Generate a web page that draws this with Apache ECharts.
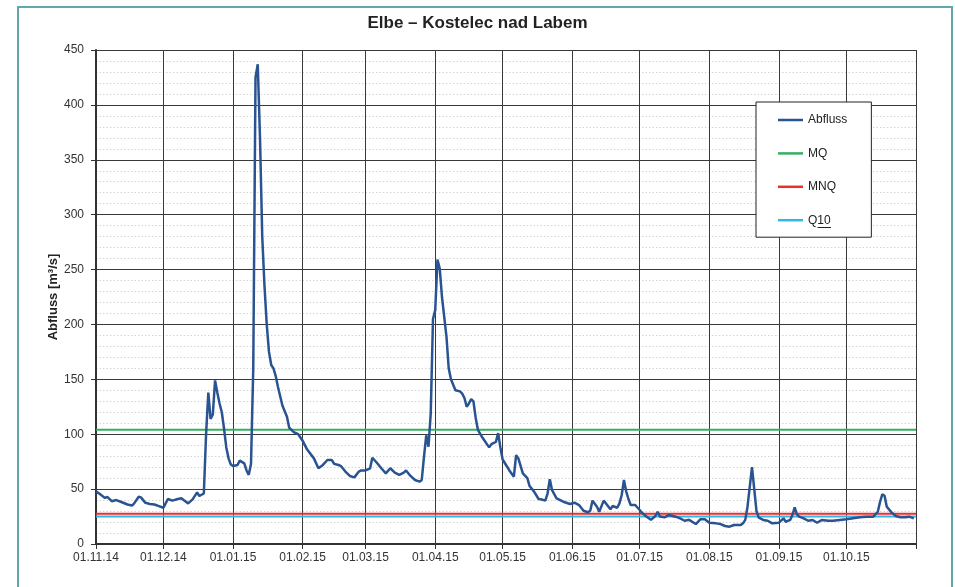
<!DOCTYPE html>
<html>
<head>
<meta charset="utf-8">
<script src="https://cdn.jsdelivr.net/npm/echarts@6/dist/echarts.min.js"></script>
<style>
html,body{margin:0;padding:0;background:#fff;}
#chart{width:955px;height:587px;}
</style>
</head>
<body>
<div id="chart"></div>
<script>
// ---- data ----
const chartTitle = 'Elbe – Kostelec nad Labem';
const yAxisName = 'Abfluss [m³/s]';
const seriesNames = ['Abfluss', 'MQ', 'MNQ', 'Q10'];
const yTicks = [0, 50, 100, 150, 200, 250, 300, 350, 400, 450];

const flowDates = [
  '01.11.14','03.11.14','05.11.14','06.11.14','08.11.14','10.11.14','12.11.14','15.11.14','17.11.14','18.11.14',
  '20.11.14','21.11.14','23.11.14','25.11.14','27.11.14','29.11.14',
  '01.12.14','02.12.14','03.12.14','05.12.14','07.12.14','09.12.14','10.12.14','12.12.14','14.12.14','16.12.14',
  '17.12.14','19.12.14','20.12.14','21.12.14','22.12.14','23.12.14','24.12.14','25.12.14','26.12.14','27.12.14',
  '28.12.14','29.12.14','30.12.14','31.12.14',
  '01.01.15','03.01.15','04.01.15','06.01.15','07.01.15','08.01.15','09.01.15','10.01.15','11.01.15','12.01.15',
  '13.01.15','14.01.15','15.01.15','16.01.15','17.01.15','18.01.15','19.01.15','20.01.15','21.01.15','23.01.15',
  '25.01.15','26.01.15','28.01.15','30.01.15',
  '01.02.15','03.02.15','06.02.15','08.02.15','10.02.15','12.02.15','14.02.15','15.02.15','17.02.15','18.02.15',
  '20.02.15','22.02.15','24.02.15','26.02.15','27.02.15',
  '01.03.15','03.03.15','04.03.15','06.03.15','08.03.15','10.03.15','12.03.15','14.03.15','16.03.15','18.03.15',
  '19.03.15','21.03.15','23.03.15','25.03.15','26.03.15','27.03.15','28.03.15','29.03.15','30.03.15','31.03.15',
  '01.04.15','02.04.15','03.04.15','04.04.15','06.04.15','07.04.15','08.04.15','09.04.15','10.04.15','12.04.15',
  '13.04.15','14.04.15','15.04.15','16.04.15','17.04.15','18.04.15','19.04.15','20.04.15','22.04.15','24.04.15',
  '25.04.15','26.04.15','28.04.15','29.04.15','30.04.15',
  '01.05.15','03.05.15','04.05.15','06.05.15','07.05.15','08.05.15','10.05.15','12.05.15','13.05.15','15.05.15',
  '17.05.15','18.05.15','20.05.15','21.05.15','22.05.15','23.05.15','25.05.15','28.05.15','31.05.15',
  '02.06.15','04.06.15','06.06.15','08.06.15','09.06.15','10.06.15','12.06.15','13.06.15','15.06.15','16.06.15',
  '18.06.15','19.06.15','21.06.15','22.06.15','23.06.15','24.06.15','25.06.15','26.06.15','27.06.15','29.06.15',
  '01.07.15','02.07.15','04.07.15','06.07.15','08.07.15','09.07.15','10.07.15','12.07.15','14.07.15','17.07.15',
  '19.07.15','21.07.15','23.07.15','26.07.15','28.07.15','30.07.15',
  '01.08.15','04.08.15','06.08.15','08.08.15','10.08.15','12.08.15','15.08.15','16.08.15','17.08.15','18.08.15',
  '19.08.15','20.08.15','21.08.15','22.08.15','23.08.15','25.08.15','27.08.15','29.08.15',
  '01.09.15','03.09.15','04.09.15','06.09.15','07.09.15','08.09.15','09.09.15','10.09.15','12.09.15','14.09.15',
  '16.09.15','18.09.15','20.09.15','23.09.15','25.09.15','28.09.15',
  '01.10.15','04.10.15','07.10.15','10.10.15','13.10.15','15.10.15','16.10.15','17.10.15','18.10.15','19.10.15',
  '21.10.15','23.10.15','25.10.15','27.10.15','29.10.15','31.10.15'
];
const flowValues = [
  48,45,42,43,39,40,38.5,36,35,37,
  43,42.5,37.5,36.5,36,34.5,
  33,37,41,39.5,40.7,41.6,40,37,40.7,47,
  43.7,46,100,138,114,118,149,138,128,120,
  105,88,78,72.5,
  71,72,76,73.5,67,63,73,160,425,437,
  370,280,235,200,175,163,160,153,143,126,
  116,106,102,100,
  94,86,78,69,72,76.5,76.5,73,72,71,
  66,62,60.7,66,67,
  67,69,78.6,74,69,64.4,69,65,63,65,
  67,62,58.3,56.8,58.3,79.5,99,88.6,119,205,
  213,259,251,225,189,160,150,145,140,139,
  137,133,125,128,132,130,115,104,97,91,
  88,91,93,101,88,
  77,70.4,67,61.3,81,78,64.4,60,52.8,47.7,
  41,40.7,39.5,46,59,49,41.6,38.5,36.4,
  37.6,35.5,30.3,28.9,30.3,39.5,34,29.4,39.5,37,
  31.6,34.6,33,37,44.6,58.3,48,41,35.5,35.5,
  31,28.5,25,22,25.5,29.4,25,24.3,26.4,24.9,
  23.4,21.2,22,18.2,22.5,22.5,
  19.4,18.8,18.2,16.4,15.8,17.3,17.3,18.8,22,34,
  52,70,50,30,24,21.9,21.2,18.8,
  19.4,23.4,20.3,21.9,26.4,33.4,27,25,23.4,21.2,
  21.9,19.4,21.9,21.2,21.2,21.9,
  22.5,23.4,24.3,24.9,24.9,29.4,38.5,45.3,44,34,
  29,25.5,24.3,24.3,24.9,23.4
];
const MQ = 104;
const MNQ = 27.5;
const Q10 = 25;
const startDate = '01.11.14';
const endDate = '01.11.15';

// ---- category axis: every day from start to end ----
function fmt(d){
  const dd = String(d.getUTCDate()).padStart(2,'0');
  const mm = String(d.getUTCMonth()+1).padStart(2,'0');
  const yy = String(d.getUTCFullYear()).slice(2);
  return dd + '.' + mm + '.' + yy;
}
const categories = [];
for (let t = Date.UTC(2014,10,1); t <= Date.UTC(2015,10,1); t += 86400000) {
  categories.push(fmt(new Date(t)));
}
const isMonthStart = (idx, val) => String(val).slice(0,2) === '01';

const FONT = "'Liberation Sans', Arial, sans-serif";
const chart = echarts.init(document.getElementById('chart'), null, {renderer:'canvas'});

const flat = v => [[startDate, v], [endDate, v]];

chart.setOption({
  animation: false,
  backgroundColor: '#fff',
  title: {
    text: chartTitle,
    left: 'center',
    top: 10,
    textStyle: {fontFamily: FONT, fontSize: 17, fontWeight: 'bold', color: '#222'}
  },
  graphic: [
    {type:'rect', shape:{x:18, y:7, width:934, height:620}, style:{fill:'none', stroke:'#62a6ae', lineWidth:2}, z:-1},
    {type:'line', shape:{x1:817.5, y1:227.5, x2:831, y2:227.5}, style:{stroke:'#222', lineWidth:1}, z:100}
  ],
  legend: {
    data: seriesNames,
    orient: 'vertical',
    left: 756,
    top: 102,
    padding: [12, 24, 11, 22],
    itemGap: 21.4,
    itemWidth: 25,
    itemHeight: 2.5,
    icon: 'rect',
    backgroundColor: '#fff',
    borderColor: '#222',
    borderWidth: 1,
    textStyle: {fontFamily: FONT, fontSize: 12, color: '#222'}
  },
  grid: {left: 96, right: 39, top: 50, bottom: 43, containLabel: false},
  xAxis: {
    type: 'category',
    data: categories,
    boundaryGap: false,
    axisLine: {show: true, lineStyle: {color: '#333', width: 2}},
    axisTick: {show: true, interval: isMonthStart, length: 5, inside: false, lineStyle: {color: '#333'}},
    axisLabel: {
      interval: isMonthStart,
      formatter: (v, i) => (v === endDate ? '' : v),
      fontFamily: FONT, fontSize: 12, color: '#333', margin: 8
    },
    splitLine: {show: true, interval: isMonthStart, lineStyle: {color: '#3a3a3a', width: 1}}
  },
  yAxis: {
    type: 'value',
    min: 0, max: 450, interval: 50,
    name: yAxisName,
    nameLocation: 'middle',
    nameGap: 36,
    nameRotate: 90,
    nameMoveOverlap: false,
    nameTextStyle: {fontFamily: FONT, fontSize: 13, fontWeight: 'bold', color: '#222'},
    axisLine: {show: true, lineStyle: {color: '#333', width: 2}},
    axisTick: {show: true, length: 5, lineStyle: {color: '#333'}},
    axisLabel: {
      fontFamily: FONT, fontSize: 12, color: '#333', margin: 12,
      formatter: v => (yTicks.indexOf(v) >= 0 ? String(v) : '')
    },
    splitLine: {show: true, lineStyle: {color: '#3a3a3a', width: 1}},
    minorTick: {show: false, splitNumber: 5},
    minorSplitLine: {show: true, lineStyle: {color: '#d4d4d4', width: 1, type: [1.5, 2]}}
  },
  series: [
    {name: seriesNames[1], type: 'line', data: flat(MQ), symbol: 'none', lineStyle: {color: '#33b060', width: 2}, itemStyle: {color: '#33b060'}, z: 2},
    {name: seriesNames[3], type: 'line', data: flat(Q10), symbol: 'none', lineStyle: {color: '#35b6e8', width: 2}, itemStyle: {color: '#35b6e8'}, z: 2},
    {name: seriesNames[2], type: 'line', data: flat(MNQ), symbol: 'none', lineStyle: {color: '#e8302c', width: 2}, itemStyle: {color: '#e8302c'}, z: 2},
    {name: seriesNames[0], type: 'line', data: flowDates.map((d, i) => [d, flowValues[i]]), symbol: 'none',
     lineStyle: {color: '#2a5391', width: 2.5}, itemStyle: {color: '#2a5391'}, z: 3}
  ]
});
</script>
</body>
</html>
